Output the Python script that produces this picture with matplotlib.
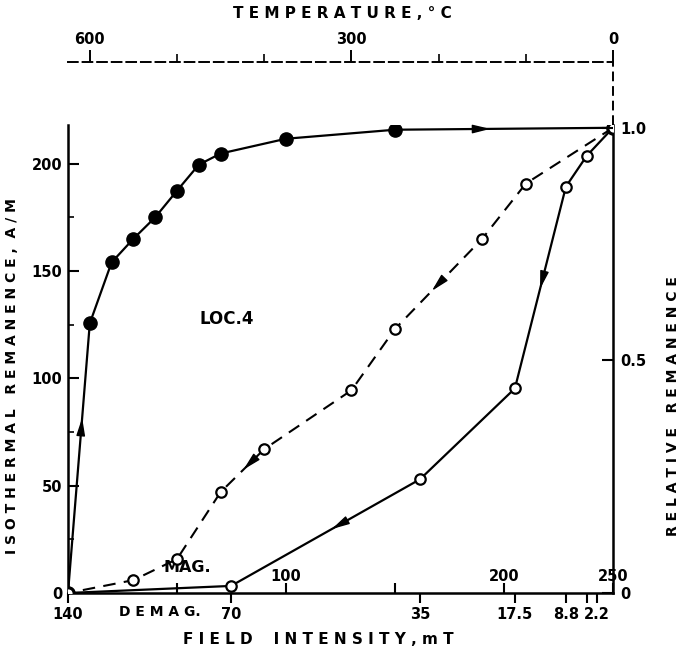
import matplotlib.pyplot as plt
import numpy as np

plt.rcParams['font.family'] = ['DejaVu Sans']
plt.rcParams['font.weight'] = 'bold'

# IRM acquisition, filled circles (field in mT, MAG. scale)
mag_field = [0, 10, 20, 30, 40, 50, 60, 70, 100, 150, 250]
mag_irm = [0, 125.6, 154, 165, 175, 187.4, 199.5, 204.7, 211.6, 215.8, 216.7]

# AF demagnetization, open circles solid line (field in mT, DEMAG. scale)
af_field = [0, 4.4, 8.8, 17.5, 35, 70, 140]
af_irm = [216.7, 203.7, 189.3, 95.3, 53, 3.3, 0]

# thermal demagnetization, open circles dashed line (deg C)
th_temp = [0, 100, 150, 250, 300, 400, 450, 500, 550, 625]
th_irm = [216.7, 190.7, 165, 123, 94.4, 67, 47, 15.8, 6, 0]

irm_full = 216.7

mag_ticks = [50, 100, 150, 200, 250]
mag_labels = ['', '100', '', '200', '250']
demag_ticks = [140, 70, 35, 17.5, 8.8, 4.4, 2.2]
demag_labels = ['140', '70', '35', '17.5', '8.8', '', '2.2']
# distance of each demag step from the right end, in MAG. units
demag_knots = [0, 2.2, 4.4, 8.8, 17.5, 35, 70, 140]
demag_knot_dist = [0, 7.3, 12, 21.6, 45, 88.5, 175.2, 250]
temp_major = [600, 300, 0]
temp_minor = [500, 400, 200, 100]

W, H = 685, 652
fig = plt.figure(figsize=(W / 100, H / 100), dpi=100)
x0, x1, y0, y1 = 68, 613, 593, 125
ax = fig.add_axes([x0 / W, 1 - y0 / H, (x1 - x0) / W, (y0 - y1) / H])
ax.set_xlim(0, 250)
ax.set_ylim(0, 218)
ax.spines['top'].set_visible(False)
for s in ['left', 'bottom', 'right']:
    ax.spines[s].set_linewidth(1.8)

ax.set_yticks([0, 50, 100, 150, 200])
ax.set_yticks([25, 75, 125, 175], minor=True)
ax.tick_params(axis='y', direction='in', length=8, width=1.5, labelsize=10.5, pad=4)
ax.tick_params(axis='y', which='minor', direction='in', length=4, width=1.2)
ax.set_xticks(mag_ticks)
ax.set_xticklabels(mag_labels)
ax.tick_params(axis='x', direction='in', length=7, width=1.5, labelsize=10.5, pad=-17)


# demag scale on the same bottom line
def fwd(v):
    return np.interp(v, demag_knots, demag_knot_dist)


def inv(p):
    return np.interp(p, demag_knot_dist, demag_knots)


axd = ax.twiny()
axd.set_xscale('function', functions=(fwd, inv))
axd.set_xlim(140, 0)
axd.xaxis.tick_bottom()
axd.set_xticks(demag_ticks)
axd.set_xticklabels(demag_labels)
axd.tick_params(axis='x', direction='out', length=7, width=1.5, labelsize=10.5, pad=3)
for s in axd.spines.values():
    s.set_visible(False)

# temperature scale on top
axt = ax.twiny()
axt.set_xlim(625, 0)
for s in axt.spines.values():
    s.set_visible(False)
axt.spines['top'].set_visible(True)
axt.spines['top'].set_position(('axes', (y0 - 62) / (y0 - y1)))
axt.spines['top'].set_linestyle((0, (5, 2.5)))
axt.spines['top'].set_linewidth(1.4)
axt.set_xticks(temp_major)
axt.set_xticks(temp_minor, minor=True)
axt.tick_params(axis='x', which='major', direction='out', length=9, width=1.4, labelsize=10.5, pad=2)
axt.tick_params(axis='x', which='minor', direction='out', length=6, width=1.2)
ax.plot([1, 1], [1, (y0 - 62) / (y0 - y1)], transform=ax.transAxes, clip_on=False,
        color='black', lw=1.4, ls=(0, (5, 2.5)))

# relative remanence on the right
axr = ax.twinx()
axr.set_ylim(0, 218 / irm_full)
axr.set_yticks([0, 0.5, 1.0])
axr.set_yticklabels(['0', '0.5', '1.0'])
axr.tick_params(axis='y', direction='in', length=8, width=1.5, labelsize=10.5, pad=5)
for s in axr.spines.values():
    s.set_visible(False)

# curves
axt.plot(th_temp, th_irm, color='black', lw=1.5, ls=(0, (6, 4)), marker='o', ms=7.5,
         mfc='white', mec='black', mew=1.6, zorder=3)
axd.plot(af_field, af_irm, color='black', lw=1.6, marker='o', ms=7.5,
         mfc='white', mec='black', mew=1.6, zorder=3)
ax.plot(mag_field, mag_irm, color='black', lw=1.6, marker='o', ms=9.5,
        mfc='black', mec='black', zorder=5)


def arrow_on(axis, xs, ys, i, frac, size=11):
    p0 = axis.transData.transform((xs[i], ys[i]))
    p1 = axis.transData.transform((xs[i + 1], ys[i + 1]))
    d = p1 - p0
    head = p0 + frac * d
    tail = head - d / np.hypot(*d) * size
    fig.add_artist(plt.Annotation('', xy=head, xytext=tail, xycoords='figure pixels',
                                  textcoords='figure pixels',
                                  arrowprops=dict(arrowstyle='-|>,head_length=0.9,head_width=0.22',
                                                  color='black', lw=1.0, mutation_scale=12)))


arrow_on(ax, mag_field, mag_irm, 0, 0.66)
arrow_on(ax, mag_field, mag_irm, 9, 0.45)
arrow_on(axd, af_field, af_irm, 2, 0.52)
arrow_on(axd, af_field, af_irm, 4, 0.48)
arrow_on(axt, th_temp, th_irm, 2, 0.6)
arrow_on(axt, th_temp, th_irm, 5, 0.52)

ax.text(72.9, 127.6, 'LOC.4', fontsize=12, ha='center', va='center')
ax.text(54.6, 12.1, 'MAG.', fontsize=11.5, ha='center', va='center')
ax.text(42, -8.8, 'D E M A G.', fontsize=10, ha='center', va='center', clip_on=False)

fig.text(12 / W, 1 - 376 / H, 'I S O T H E R M A L   R E M A N E N C E ,  A / M',
         rotation=90, ha='center', va='center', fontsize=10)
fig.text(318 / W, 1 - 640 / H, 'F I E L D    I N T E N S I T Y , m T',
         ha='center', va='center', fontsize=11)
fig.text(342 / W, 1 - 13 / H, 'T E M P E R A T U R E , ° C',
         ha='center', va='center', fontsize=11)
fig.text(673 / W, 1 - 406 / H, 'R E L A T I V E   R E M A N E N C E',
         rotation=90, ha='center', va='center', fontsize=10)

fig.savefig('out.png', dpi=100)
